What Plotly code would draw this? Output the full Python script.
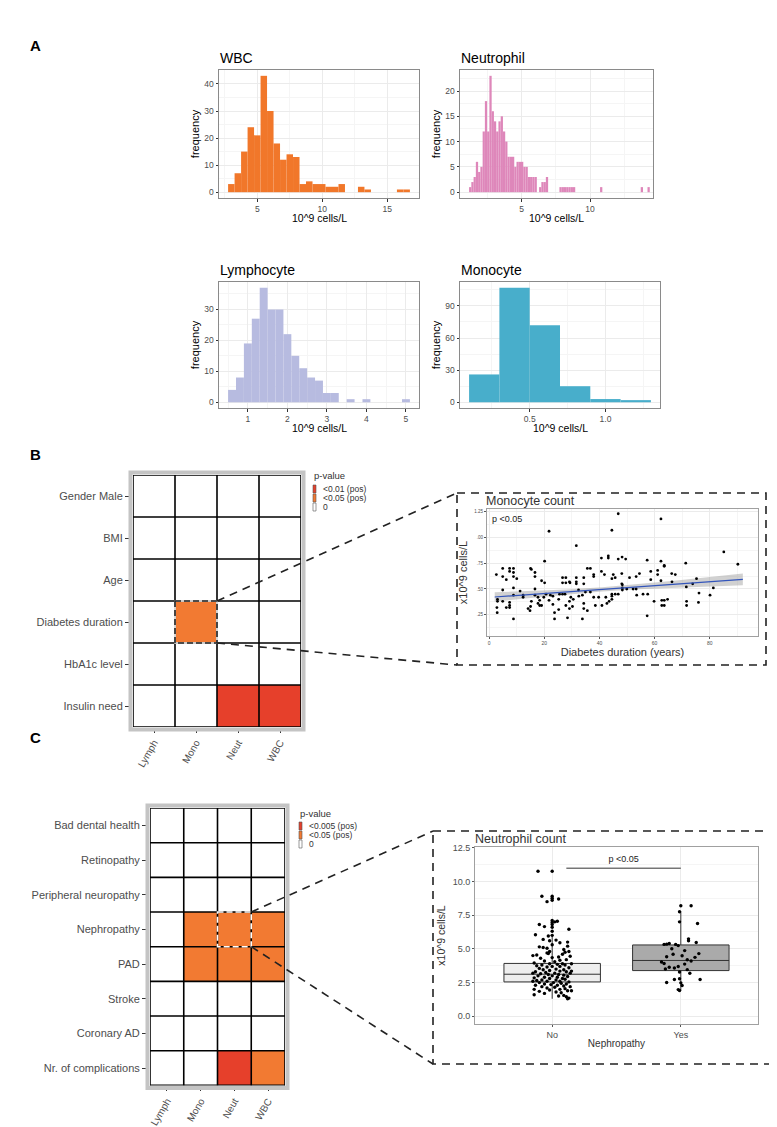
import numpy as np
import plotly.graph_objects as go

W, H = 777, 1127

# ---------------- DATA ----------------
# Panel A histograms (bin start, bin width, counts)
wbc_bin_start, wbc_bin_width = 2.75, 0.5
wbc_counts = [3, 7, 15, 24, 21, 43, 30, 18, 12, 14, 13, 3, 4, 3, 3, 2, 2, 3, 0, 0, 2, 1, 0, 0, 0, 0, 1, 1]

neut_bin_start, neut_bin_width = 1.163, 0.165
neut_counts = [1, 2, 3, 6, 4, 5, 12, 18, 12, 23, 16, 14, 12, 14, 15, 12, 10, 7, 7, 7,
               5, 6, 6, 6, 5, 5, 3, 3, 3, 3, 0, 1, 2, 2, 3, 0, 0, 0, 0, 0,
               1, 1, 1, 1, 1, 1, 1, 0, 0, 0, 0, 0, 0, 0, 0, 0, 0, 0, 1, 0,
               0, 0, 0, 0, 0, 0, 0, 0, 0, 0, 0, 0, 0, 0, 0, 0, 1, 0, 0, 1]

lymph_bin_start, lymph_bin_width = 0.5, 0.2
lymph_counts = [4, 8, 19, 27, 37, 30, 30, 22, 15, 11, 8, 7, 3, 3, 0, 1, 0, 1, 0, 0, 0, 0, 1]

mono_bin_start, mono_bin_width = 0.1, 0.2
mono_counts = [26, 107, 72, 15, 3, 2]

# Panel B heatmap
cell_types = ["Lymph", "Mono", "Neut", "WBC"]
rows_B = ["Gender Male", "BMI", "Age", "Diabetes duration", "HbA1c level", "Insulin need"]
z_B = [[0, 0, 0, 0],
       [0, 0, 0, 0],
       [0, 0, 0, 0],
       [0, 1, 0, 0],
       [0, 0, 0, 0],
       [0, 0, 2, 2]]
legend_B = ["<0.01 (pos)", "<0.05 (pos)", "0"]

# Panel B inset: monocyte count vs diabetes duration (years)
mono_dur = [46.8, 62.3, 44.5, 21.7, 31.6, 85.1, 90.2, 43.2, 40.7, 43.2, 48.2, 49.5, 46.8, 20.1, 57.3, 62.3, 71.3,
            35.6, 36.7, 4.9, 7.4, 8.8, 15.0, 15.3, 2.6, 7.4, 8.8, 4.9, 8.8, 10.0, 6.2, 16.6, 16.6, 19.0, 20.1,
            26.6, 27.8, 26.6, 27.8, 29.1, 29.3, 31.6, 31.6, 31.6, 34.3, 34.3, 37.9, 37.9, 40.7, 41.8, 45.0, 45.7,
            44.5, 48.1, 48.1, 48.3, 50.9, 53.3, 54.5, 58.6, 58.6, 61.1, 61.1, 63.5, 63.5, 66.2, 67.5, 66.3, 62.3,
            71.5, 73.8, 75.2, 76.1, 80.1, 81.3, 75.9, 71.6, 71.6, 63.5, 64.7, 62.6, 62.6, 63.5, 59.8, 57.5, 55.8,
            53.5, 52.2, 53.3, 49.9, 48.3, 48.3, 46.8, 45.7, 44.5, 44.5, 42.3, 44.5, 43.5, 42.7, 40.9, 38.5, 37.9,
            39.7, 36.7, 34.9, 33.8, 32.5, 32.4, 29.6, 29.1, 30.5, 30.2, 27.8, 27.5, 26.6, 25.5, 25.2, 25.2, 29.1,
            23.1, 22.2, 21.7, 20.6, 19.8, 18.3, 18.3, 16.6, 16.6, 17.7, 17.7, 19.0, 15.3, 15.0, 14.8, 12.3, 12.3,
            11.2, 8.8, 8.8, 7.4, 7.4, 7.4, 6.2, 4.9, 4.9, 3.0, 3.0, 2.8, 2.9, 14.1, 23.1, 23.7, 34.3, 34.3, 35.6,
            8.8, 23.7, 33.8, 57.3, 28.4]
mono_cnt = [1.23, 1.18, 1.07, 1.06, 0.92, 0.86, 0.74, 0.80, 0.80, 0.82, 0.81, 0.79, 0.79, 0.77, 0.78, 0.77, 0.75,
            0.70, 0.70, 0.70, 0.70, 0.70, 0.70, 0.69, 0.64, 0.67, 0.66, 0.62, 0.62, 0.60, 0.59, 0.66, 0.62, 0.58,
            0.56, 0.61, 0.61, 0.56, 0.56, 0.57, 0.56, 0.61, 0.57, 0.55, 0.61, 0.55, 0.62, 0.64, 0.67, 0.64, 0.64,
            0.61, 0.60, 0.65, 0.55, 0.54, 0.61, 0.62, 0.65, 0.67, 0.59, 0.68, 0.64, 0.73, 0.72, 0.65, 0.64, 0.57,
            0.58, 0.52, 0.55, 0.60, 0.46, 0.44, 0.51, 0.37, 0.38, 0.34, 0.39, 0.40, 0.39, 0.34, 0.34, 0.38, 0.45,
            0.45, 0.44, 0.50, 0.50, 0.50, 0.51, 0.49, 0.45, 0.45, 0.45, 0.43, 0.42, 0.40, 0.38, 0.36, 0.34, 0.34,
            0.42, 0.42, 0.47, 0.47, 0.44, 0.43, 0.49, 0.42, 0.38, 0.40, 0.33, 0.34, 0.45, 0.45, 0.45, 0.40, 0.30,
            0.31, 0.43, 0.44, 0.39, 0.45, 0.42, 0.39, 0.34, 0.50, 0.44, 0.42, 0.36, 0.34, 0.38, 0.33, 0.29, 0.44,
            0.42, 0.48, 0.51, 0.44, 0.37, 0.34, 0.32, 0.32, 0.49, 0.38, 0.40, 0.38, 0.32, 0.27, 0.31, 0.35, 0.27,
            0.36, 0.31, 0.29, 0.21, 0.21, 0.21, 0.24, 0.22]
fit_x = [2, 15, 28, 41, 54, 67, 80, 92]
fit_y = [0.4222, 0.4471, 0.4719, 0.4968, 0.5216, 0.5464, 0.5713, 0.5942]
fit_lo = [0.377, 0.4134, 0.4477, 0.4768, 0.4973, 0.5125, 0.5256, 0.537]
fit_hi = [0.4674, 0.4808, 0.4961, 0.5168, 0.5459, 0.5803, 0.617, 0.6514]
mono_xticks = [0, 20, 40, 60, 80]
mono_yticks = [0.25, 0.50, 0.75, 1.00, 1.25]
mono_yticktext = [".25", ".50", ".75", ".00", "1.25"]

# Panel C heatmap
rows_C = ["Bad dental health", "Retinopathy", "Peripheral neuropathy", "Nephropathy", "PAD",
          "Stroke", "Coronary AD", "Nr. of complications"]
z_C = [[0, 0, 0, 0],
       [0, 0, 0, 0],
       [0, 0, 0, 0],
       [0, 1, 1, 1],
       [0, 1, 1, 1],
       [0, 0, 0, 0],
       [0, 0, 0, 0],
       [0, 0, 2, 1]]
legend_C = ["<0.005 (pos)", "<0.05 (pos)", "0"]

# Panel C inset: neutrophil count by nephropathy
box_groups = ["No", "Yes"]
box_q1 = [2.55, 3.39]
box_med = [3.12, 4.14]
box_q3 = [3.92, 5.29]
box_lo = [1.30, 1.90]
box_hi = [5.95, 7.78]
no_y = [10.75, 10.75, 8.9, 8.9, 8.75, 8.6, 8.5, 8.7, 7.1, 7.05, 7.0, 6.95, 6.8, 6.8, 6.65, 6.6, 6.45, 6.3,
        6.05, 6.0, 5.95, 5.7, 5.65, 5.6, 5.5, 5.45, 5.3, 5.2, 5.15, 5.1, 5.05, 4.95, 4.8, 4.8, 4.75, 4.7,
        4.65, 4.6, 4.55, 4.5, 4.4, 4.35, 4.3, 4.2, 4.15, 4.1, 4.05, 3.95, 3.9, 3.9, 3.85, 3.8, 3.8, 3.75,
        3.7, 3.7, 3.65, 3.6, 3.55, 3.5, 3.45, 3.45, 3.4, 3.35, 3.3, 3.3, 3.25, 3.2, 3.2, 3.15, 3.1, 3.1,
        3.05, 3.0, 3.0, 2.95, 2.9, 2.9, 2.85, 2.8, 2.8, 2.75, 2.7, 2.7, 2.65, 2.6, 2.6, 2.55, 2.5, 2.5,
        2.45, 2.4, 2.4, 2.35, 2.3, 2.3, 2.25, 2.2, 2.2, 2.15, 2.1, 2.05, 2.0, 2.0, 1.95, 1.9, 1.85, 1.8,
        1.75, 1.7, 1.6, 1.55, 1.5, 1.45, 1.35, 1.3, 1.9, 2.6, 3.2, 3.9, 3.35, 4.45]
no_dx = [-0.11, 0.0, -0.08, 0.0, 0.0, 0.0, -0.04, 0.05, 0.0, 0.04, 0.02, 0.0, -0.1, 0.0, -0.06, 0.0, 0.13, 0.0,
         -0.13, 0.0, -0.03, -0.07, 0.03, -0.02, 0.12, 0.06, 0.0, 0.12, -0.1, -0.07, -0.04, 0.09, -0.02, 0.13,
         0.1, -0.04, -0.03, 0.08, -0.12, -0.15, 0.05, 0.0, -0.09, 0.11, 0.06, -0.06, 0.02, -0.14, -0.02, 0.08,
         0.04, -0.08, 0.1, -0.12, 0.0, 0.06, -0.04, 0.13, -0.1, 0.03, -0.07, 0.09, -0.02, 0.06, -0.13, 0.11,
         -0.05, 0.02, 0.14, -0.09, 0.05, -0.03, 0.09, -0.11, 0.0, 0.12, -0.06, 0.04, -0.14, 0.08, -0.02, 0.1,
         -0.08, 0.03, -0.12, 0.06, -0.04, 0.13, -0.1, 0.01, 0.07, -0.06, 0.11, -0.01, 0.04, -0.13, 0.09, -0.08,
         0.14, 0.02, -0.04, 0.1, -0.14, 0.06, -0.02, 0.12, -0.1, 0.03, 0.07, -0.06, -0.14, 0.09, 0.05, 0.11,
         0.13, 0.12, 0.15, -0.15, -0.15, 0.15, 0.15, 0.14]
yes_y = [8.2, 8.2, 7.75, 7.0, 6.88, 5.74, 5.6, 5.47, 5.33, 5.35, 5.4, 5.33, 5.24, 5.01, 4.87, 4.65, 4.6,
         4.42, 4.49, 4.37, 4.19, 4.1, 4.03, 3.92, 3.87, 3.69, 3.64, 3.51, 3.58, 3.46, 3.28, 3.19, 2.73,
         2.73, 2.51, 2.78, 2.48, 2.28, 1.91, 1.98]
yes_dx = [0.0, 0.08, -0.01, -0.01, 0.13, 0.06, 0.06, 0.12, -0.13, -0.11, -0.09, -0.04, -0.02, -0.07, 0.03,
          0.14, -0.06, -0.11, 0.01, 0.11, 0.05, 0.08, -0.15, -0.13, 0.03, -0.02, -0.09, -0.12, -0.05, 0.05,
          -0.01, 0.07, 0.15, -0.05, -0.11, -0.01, 0.0, 0.01, -0.01, -0.02]
p_text = "p <0.05"

# ---------------- STYLE ----------------
FONT = "Liberation Sans, Arial, Helvetica, sans-serif"
C_WBC, C_NEUT, C_LYMPH, C_MONO = "#F1772A", "#DE87BA", "#B7BBE0", "#48AECB"
C_ORANGE, C_RED = "#F27A32", "#E6402B"
GRID, GRIDMIN, FRAME = "#EBEBEB", "#F5F5F5", "#8A8A8A"


def fx(px):
    return px / W


def fy(py):
    return 1 - py / H


def dx_(l, r):
    return [l / W, r / W]


def dy_(t, b):
    return [1 - b / H, 1 - t / H]


fig = go.Figure()
layout = {}
shapes = []
annotations = []

# ---------------- Panel A ----------------
hists = [
    ("", wbc_bin_start, wbc_bin_width, wbc_counts, C_WBC, (211, 411, 62, 190), [2.05, 17.45], [-2.15, 45.15],
     [5, 10, 15], ["5", "10", "15"], [0, 10, 20, 30, 40], "WBC"),
    ("2", neut_bin_start, neut_bin_width, neut_counts, C_NEUT, (452, 645, 62, 190), [0.5, 14.6], [-1.15, 24.15],
     [5, 10], ["5", "10"], [0, 5, 10, 15, 20], "Neutrophil"),
    ("3", lymph_bin_start, lymph_bin_width, lymph_counts, C_LYMPH, (211, 411, 274, 400), [0.27, 5.33], [-1.85, 38.85],
     [1, 2, 3, 4, 5], ["1", "2", "3", "4", "5"], [0, 10, 20, 30], "Lymphocyte"),
    ("4", mono_bin_start, mono_bin_width, mono_counts, C_MONO, (452, 652, 274, 400), [0.04, 1.36], [-5.35, 112.35],
     [0.5, 1.0], ["0.5", "1.0"], [0, 30, 60, 90], "Monocyte"),
]

for ax, start, width, counts, color, (l, r, t, b), xr, yr, xt, xtt, yt, title in hists:
    cts = np.array(counts)
    centers = start + width * (np.arange(len(cts)) + 0.5)
    fig.add_trace(go.Bar(x=centers, y=cts, width=width, marker=dict(color=color, line=dict(width=0)),
                         xaxis="x" + ax, yaxis="y" + ax, showlegend=False, hoverinfo="skip"))
    xminor = [(a + bb) / 2 for a, bb in zip([2 * xt[0] - xt[1]] + xt, xt + [2 * xt[-1] - xt[-2]])]
    yminor = [(a + bb) / 2 for a, bb in zip(yt, yt[1:] + [2 * yt[-1] - yt[-2]])]
    common = dict(showgrid=True, gridcolor=GRID, gridwidth=1, showline=True, mirror=True, linecolor=FRAME,
                  linewidth=1, ticks="outside", ticklen=2.5, tickcolor="#333333", tickwidth=1,
                  tickfont=dict(size=8.5, color="#4D4D4D", family=FONT), zeroline=False, automargin=False)
    layout["xaxis" + ax] = dict(domain=dx_(l, r), range=xr, tickvals=xt, ticktext=xtt, anchor="y" + ax,
                                minor=dict(tickvals=xminor, showgrid=True, gridcolor=GRIDMIN, gridwidth=1),
                                **common)
    layout["yaxis" + ax] = dict(domain=dy_(t, b), range=yr, tickvals=yt, anchor="x" + ax,
                                minor=dict(tickvals=yminor, showgrid=True, gridcolor=GRIDMIN, gridwidth=1),
                                title=dict(text="frequency", font=dict(size=11, color="black", family=FONT),
                                           standoff=2), **common)
    annotations.append(dict(text=title, x=fx(l - 1), y=fy(t - 12), xref="paper", yref="paper", xanchor="left",
                            yanchor="middle", showarrow=False, font=dict(size=14, color="black", family=FONT)))
    annotations.append(dict(text="10^9 cells/L", x=fx((l + r) / 2), y=fy(b + 20), xref="paper", yref="paper",
                            xanchor="center", yanchor="middle", showarrow=False,
                            font=dict(size=10.5, color="black", family=FONT)))

# ---------------- Heatmaps ----------------
cscale = [[0, "white"], [0.25, "white"], [0.25, C_ORANGE], [0.75, C_ORANGE], [0.75, C_RED], [1, C_RED]]


def add_heat(ax, z, rows, l, r, t, b):
    nr, nc = len(rows), len(cell_types)
    fig.add_trace(go.Heatmap(z=z, x=list(range(nc)), y=list(range(nr)), colorscale=cscale, zmin=0, zmax=2,
                             showscale=False, xaxis="x" + ax, yaxis="y" + ax, hoverinfo="skip"))
    tf = dict(size=11, color="#4D4D4D", family=FONT)
    layout["xaxis" + ax] = dict(domain=dx_(l, r), range=[-0.5, nc - 0.5], tickvals=list(range(nc)),
                                ticktext=cell_types, tickangle=-60, showgrid=False, zeroline=False,
                                ticks="outside", ticklen=5, tickcolor="#333333",
                                tickfont=dict(size=10, color="#4D4D4D", family=FONT),
                                anchor="y" + ax, automargin=False, showline=False)
    layout["yaxis" + ax] = dict(domain=dy_(t, b), range=[nr - 0.5, -0.5], tickvals=list(range(nr)),
                                ticktext=rows, showgrid=False, zeroline=False, ticks="outside", ticklen=7,
                                tickcolor="#333333", tickfont=tf, anchor="x" + ax, automargin=False,
                                showline=False)
    for i in range(nc + 1):
        shapes.append(dict(type="line", xref="x" + ax, yref="y" + ax, x0=i - 0.5, x1=i - 0.5, y0=-0.5,
                           y1=nr - 0.5, line=dict(color="black", width=1.6)))
    for j in range(nr + 1):
        shapes.append(dict(type="line", xref="x" + ax, yref="y" + ax, y0=j - 0.5, y1=j - 0.5, x0=-0.5,
                           x1=nc - 0.5, line=dict(color="black", width=1.6)))
    shapes.append(dict(type="rect", xref="paper", yref="paper", x0=fx(l - 2.5), x1=fx(r + 2.5),
                       y0=fy(t - 2.5), y1=fy(b + 2.5), line=dict(color="#C4C4C4", width=4)))


HB = (125, 293, 467, 719)
add_heat("5", z_B, rows_B, *HB)
shapes.append(dict(type="rect", xref="x5", yref="y5", x0=0.5, x1=1.5, y0=2.5, y1=3.5,
                   line=dict(color="white", width=1.6)))
shapes.append(dict(type="rect", xref="x5", yref="y5", x0=0.5, x1=1.5, y0=2.5, y1=3.5,
                   line=dict(color="#222222", width=1.6, dash="6px,3px")))

HC = (142, 277, 800, 1077.4)
add_heat("7", z_C, rows_C, *HC)
shapes.append(dict(type="rect", xref="x7", yref="y7", x0=1.5, x1=2.5, y0=2.5, y1=3.5,
                   line=dict(color="white", width=1.6, dash="6px,3px")))


def add_legend(x, y, labels):
    annotations.append(dict(text="p-value", x=fx(x), y=fy(y), xref="paper", yref="paper", xanchor="left",
                            yanchor="middle", showarrow=False, font=dict(size=9.5, color="#333333", family=FONT)))
    cols = [C_RED, C_ORANGE, "white"]
    for k, lab in enumerate(labels):
        yy = y + 13 + 9 * k
        shapes.append(dict(type="rect", xref="paper", yref="paper", x0=fx(x + 1), x1=fx(x + 4),
                           y0=fy(yy - 4), y1=fy(yy + 4), fillcolor=cols[k], line=dict(color="#555555", width=0.6)))
        annotations.append(dict(text=lab, x=fx(x + 9), y=fy(yy), xref="paper", yref="paper", xanchor="left",
                                yanchor="middle", showarrow=False,
                                font=dict(size=8.5, color="#333333", family=FONT)))


add_legend(304, 468, legend_B)
add_legend(290, 805, legend_C)

# ---------------- Inset B scatter ----------------
BB = (449, 758, 485, 657)        # dashed frame
BP = (479, 750, 501, 628)        # plot area
fig.add_trace(go.Scatter(x=fit_x + fit_x[::-1], y=fit_hi + fit_lo[::-1], fill="toself", mode="lines",
                         line=dict(width=0), fillcolor="rgba(153,153,153,0.45)", xaxis="x6", yaxis="y6",
                         showlegend=False, hoverinfo="skip"))
fig.add_trace(go.Scatter(x=mono_dur, y=mono_cnt, mode="markers", marker=dict(color="black", size=2.8),
                         xaxis="x6", yaxis="y6", showlegend=False, hoverinfo="skip"))
fig.add_trace(go.Scatter(x=fit_x, y=fit_y, mode="lines", line=dict(color="#3355BB", width=1.2),
                         xaxis="x6", yaxis="y6", showlegend=False, hoverinfo="skip"))
inset_common = dict(showgrid=True, gridcolor=GRID, gridwidth=1, showline=True, mirror=True, linecolor="#A0A0A0",
                    linewidth=1, ticks="outside", ticklen=2, tickcolor="#555555", zeroline=False, automargin=False)
layout["xaxis6"] = dict(domain=dx_(BP[0], BP[1]), range=[-0.8, 97.5], tickvals=mono_xticks, anchor="y6",
                        minor=dict(tickvals=[10, 30, 50, 70, 90], showgrid=True, gridcolor=GRIDMIN),
                        tickfont=dict(size=5, color="#4D4D4D", family=FONT),
                        title=dict(text="Diabetes duration (years)", font=dict(size=11, color="#333333", family=FONT),
                                   standoff=1), **inset_common)
layout["yaxis6"] = dict(domain=dy_(BP[2], BP[3]), range=[0.044, 1.276], tickvals=mono_yticks, ticktext=mono_yticktext,
                        anchor="x6", minor=dict(tickvals=[0.125, 0.375, 0.625, 0.875, 1.125], showgrid=True,
                                                gridcolor=GRIDMIN),
                        tickfont=dict(size=4.5, color="#4D4D4D", family=FONT),
                        title=dict(text="x10^9 cells/L", font=dict(size=11, color="#333333", family=FONT),
                                   standoff=4), **inset_common)
annotations.append(dict(text="Monocyte count", x=fx(BP[0] - 3), y=fy(BP[2] - 8), xref="paper", yref="paper",
                        xanchor="left", yanchor="middle", showarrow=False,
                        font=dict(size=12.5, color="#333333", family=FONT)))
annotations.append(dict(text=p_text, x=fx(BP[0] + 3), y=fy(BP[2] + 10), xref="paper", yref="paper", xanchor="left",
                        yanchor="middle", showarrow=False, font=dict(size=9, color="#222222", family=FONT)))

# ---------------- Inset C boxplot ----------------
CB = (425, 772, 823, 1056)
CP = (467, 750, 839, 1016)
box_fill = ["#EEEEEE", "#AAAAAA"]
for k, g in enumerate(box_groups):
    fig.add_trace(go.Box(x=[k + 1], q1=[box_q1[k]], median=[box_med[k]], q3=[box_q3[k]],
                         lowerfence=[box_lo[k]], upperfence=[box_hi[k]], width=0.75, fillcolor=box_fill[k],
                         line=dict(color="#333333", width=1), whiskerwidth=0, boxpoints=False,
                         xaxis="x8", yaxis="y8", showlegend=False, hoverinfo="skip"))
fig.add_trace(go.Scatter(x=[1 + d for d in no_dx], y=no_y, mode="markers", marker=dict(color="black", size=3.4),
                         xaxis="x8", yaxis="y8", showlegend=False, hoverinfo="skip"))
fig.add_trace(go.Scatter(x=[2 + d for d in yes_dx], y=yes_y, mode="markers", marker=dict(color="black", size=3.4),
                         xaxis="x8", yaxis="y8", showlegend=False, hoverinfo="skip"))
fig.add_trace(go.Scatter(x=[1.11, 2.0], y=[10.98, 10.98], mode="lines", line=dict(color="#333333", width=1),
                         xaxis="x8", yaxis="y8", showlegend=False, hoverinfo="skip"))
fig.add_trace(go.Scatter(x=[1.555], y=[11.6], mode="text", text=[p_text],
                         textfont=dict(size=9, color="#222222", family=FONT),
                         xaxis="x8", yaxis="y8", showlegend=False, hoverinfo="skip"))
layout["xaxis8"] = dict(domain=dx_(CP[0], CP[1]), range=[0.4, 2.6], tickvals=[1, 2], ticktext=box_groups,
                        anchor="y8", tickfont=dict(size=9, color="#4D4D4D", family=FONT),
                        title=dict(text="Nephropathy", font=dict(size=10, color="#333333", family=FONT), standoff=1),
                        **inset_common)
layout["yaxis8"] = dict(domain=dy_(CP[2], CP[3]), range=[-0.57, 12.55], tickvals=[0, 2.5, 5, 7.5, 10, 12.5],
                        ticktext=["0.0", "2.5", "5.0", "7.5", "10.0", "12.5"], anchor="x8",
                        minor=dict(tickvals=[1.25, 3.75, 6.25, 8.75, 11.25], showgrid=True, gridcolor=GRIDMIN),
                        tickfont=dict(size=9, color="#4D4D4D", family=FONT),
                        title=dict(text="x10^9 cells/L", font=dict(size=10.5, color="#333333", family=FONT),
                                   standoff=4), **inset_common)
annotations.append(dict(text="Neutrophil count", x=fx(CP[0] - 2), y=fy(CP[2] - 8), xref="paper", yref="paper",
                        xanchor="left", yanchor="middle", showarrow=False,
                        font=dict(size=12.5, color="#333333", family=FONT)))

# ---------------- Zoom connectors & dashed frames ----------------
DASH = dict(color="#222222", width=1.6, dash="8px,6px")
cwB = (HB[1] - HB[0]) / 4
chB = (HB[3] - HB[2]) / 6
cwC = (HC[1] - HC[0]) / 4
chC = (HC[3] - HC[2]) / 8
shapes += [
    dict(type="rect", xref="paper", yref="paper", x0=fx(BB[0]), x1=fx(BB[1]), y0=fy(BB[2]), y1=fy(BB[3]), line=DASH),
    dict(type="line", xref="paper", yref="paper", x0=fx(HB[0] + 2 * cwB), y0=fy(HB[2] + 3 * chB),
         x1=fx(BB[0]), y1=fy(BB[2]), line=DASH),
    dict(type="line", xref="paper", yref="paper", x0=fx(HB[0] + 2 * cwB), y0=fy(HB[2] + 4 * chB),
         x1=fx(BB[0]), y1=fy(BB[3]), line=DASH),
    dict(type="rect", xref="paper", yref="paper", x0=fx(CB[0]), x1=fx(CB[1]), y0=fy(CB[2]), y1=fy(CB[3]), line=DASH),
    dict(type="line", xref="paper", yref="paper", x0=fx(HC[0] + 3 * cwC), y0=fy(HC[2] + 3 * chC),
         x1=fx(CB[0]), y1=fy(CB[2]), line=DASH),
    dict(type="line", xref="paper", yref="paper", x0=fx(HC[0] + 3 * cwC), y0=fy(HC[2] + 4 * chC),
         x1=fx(CB[0]), y1=fy(CB[3]), line=DASH),
]

for lab, yy in [("A", 37), ("B", 446), ("C", 729)]:
    annotations.append(dict(text="<b>%s</b>" % lab, x=fx(20), y=fy(yy), xref="paper", yref="paper",
                            xanchor="left", yanchor="middle", showarrow=False,
                            font=dict(size=15, color="black", family=FONT)))

fig.update_layout(width=W, height=H, margin=dict(l=0, r=0, t=0, b=0), template="none",
                  paper_bgcolor="white", plot_bgcolor="white", shapes=shapes, annotations=annotations,
                  font=dict(family=FONT), showlegend=False, **layout)

fig.write_html("out.html")
